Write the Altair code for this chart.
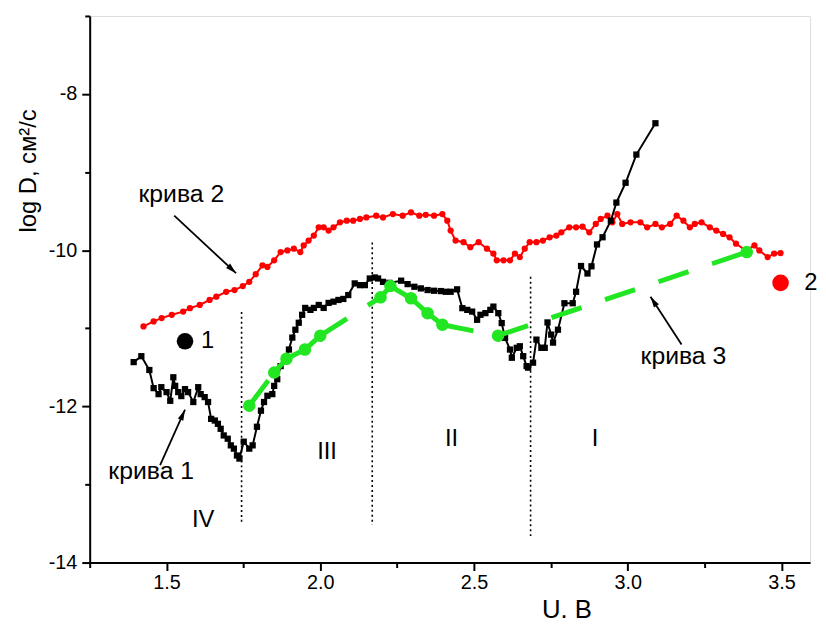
import altair as alt
import pandas as pd

# ---------------- data ----------------
# curve 1 (black squares)
c1_x = [1.393, 1.418, 1.444, 1.458, 1.474, 1.483, 1.500, 1.512, 1.522, 1.528, 1.538, 1.548, 1.560, 1.570,
        1.587, 1.603, 1.611, 1.624, 1.635, 1.645, 1.657, 1.667, 1.676, 1.686, 1.699, 1.709, 1.719, 1.729,
        1.737, 1.751, 1.769, 1.780, 1.794, 1.807, 1.817, 1.828, 1.844, 1.850, 1.860, 1.871, 1.887, 1.898,
        1.909, 1.919, 1.930, 1.941, 1.951, 1.968, 1.979, 1.995, 2.011, 2.027, 2.043, 2.059, 2.075, 2.091,
        2.112, 2.129, 2.145, 2.161, 2.177, 2.188, 2.204, 2.225, 2.263, 2.284, 2.306, 2.327, 2.349, 2.370,
        2.392, 2.408, 2.424, 2.445, 2.462, 2.478, 2.494, 2.510, 2.521, 2.537, 2.553, 2.563, 2.579, 2.590,
        2.601, 2.617, 2.623, 2.639, 2.649, 2.660, 2.671, 2.676, 2.692, 2.703, 2.719, 2.730, 2.739, 2.751,
        2.757, 2.773, 2.794, 2.821, 2.832, 2.848, 2.869, 2.882, 2.900, 2.918, 2.945, 2.963, 2.993, 3.028,
        3.090]
c1_y = [-11.433, -11.357, -11.534, -11.766, -11.843, -11.754, -11.817, -11.928, -11.627, -11.737, -11.817,
        -11.868, -11.779, -11.817, -11.944, -11.754, -11.843, -11.881, -11.944, -12.160, -12.181, -12.223,
        -12.287, -12.372, -12.414, -12.499, -12.541, -12.629, -12.668, -12.452, -12.541, -12.499, -12.261,
        -12.055, -11.944, -11.864, -11.843, -11.737, -11.652, -11.484, -11.398, -11.272, -11.119, -11.018,
        -10.929, -10.827, -10.739, -10.764, -10.739, -10.701, -10.739, -10.675, -10.659, -10.637, -10.624,
        -10.574, -10.425, -10.447, -10.447, -10.362, -10.349, -10.362, -10.405, -10.418, -10.390, -10.434,
        -10.468, -10.489, -10.510, -10.519, -10.523, -10.532, -10.532, -10.501, -10.742, -10.764, -10.786,
        -10.891, -10.827, -10.806, -10.764, -10.722, -10.806, -10.933, -11.123, -11.272, -11.377, -11.250,
        -11.230, -11.357, -11.484, -11.504, -11.440, -11.145, -11.250, -11.250, -10.925, -11.081, -11.183,
        -11.018, -10.679, -10.679, -10.532, -10.202, -10.298, -10.206, -9.926, -9.834, -9.622, -9.390,
        -9.136, -8.775, -8.374]

# curve 2 (red circles)
c2_x = [1.425, 1.458, 1.484, 1.517, 1.554, 1.576, 1.608, 1.640, 1.662, 1.694, 1.721, 1.748, 1.769, 1.790,
        1.812, 1.828, 1.850, 1.871, 1.893, 1.914, 1.935, 1.946, 1.962, 1.979, 1.995, 2.011, 2.027, 2.043,
        2.064, 2.086, 2.107, 2.129, 2.150, 2.182, 2.204, 2.236, 2.268, 2.295, 2.322, 2.343, 2.370, 2.397,
        2.413, 2.424, 2.440, 2.466, 2.488, 2.515, 2.542, 2.563, 2.574, 2.596, 2.617, 2.633, 2.649, 2.665,
        2.681, 2.703, 2.724, 2.746, 2.768, 2.784, 2.810, 2.832, 2.853, 2.875, 2.896, 2.912, 2.934, 2.950,
        2.966, 2.982, 3.009, 3.041, 3.063, 3.090, 3.111, 3.138, 3.159, 3.181, 3.202, 3.218, 3.240, 3.267,
        3.288, 3.310, 3.331, 3.352, 3.385, 3.412, 3.428, 3.455, 3.476, 3.497]
c2_y = [-10.976, -10.912, -10.869, -10.827, -10.786, -10.742, -10.701, -10.637, -10.595, -10.532, -10.510,
        -10.459, -10.405, -10.307, -10.193, -10.214, -10.129, -10.024, -10.003, -9.981, -10.024, -9.939,
        -9.876, -9.812, -9.707, -9.707, -9.749, -9.707, -9.643, -9.622, -9.622, -9.600, -9.580, -9.558,
        -9.580, -9.537, -9.558, -9.516, -9.558, -9.546, -9.558, -9.537, -9.622, -9.749, -9.876, -9.897,
        -9.961, -9.897, -9.981, -10.044, -10.129, -10.129, -10.129, -10.044, -10.088, -9.981, -9.897,
        -9.897, -9.876, -9.834, -9.812, -9.770, -9.707, -9.707, -9.698, -9.770, -9.664, -9.600, -9.558,
        -9.643, -9.537, -9.664, -9.643, -9.643, -9.707, -9.664, -9.707, -9.664, -9.558, -9.622, -9.707,
        -9.664, -9.643, -9.707, -9.749, -9.791, -9.834, -9.917, -10.003, -9.939, -10.003, -10.088, -10.044,
        -10.037]

# curve 3 (green, dashed)
c3_x = [1.769, 1.850, 1.890, 1.950, 2.000, 2.196, 2.228, 2.295, 2.349, 2.397, 2.578, 3.387]
c3_y = [-11.991, -11.567, -11.390, -11.272, -11.094, -10.603, -10.459, -10.615, -10.806, -10.954, -11.094,
        -10.024]

# dotted region boundaries
bound_x = [1.744, 2.169, 2.684]
bound_top = [-10.79, -9.90, -10.34]
bound_bottom = [-13.49, -13.52, -13.66]

# region labels
region_labels = ["IV", "III", "II", "I"]
region_x = [1.619, 2.022, 2.427, 2.894]
region_y = [-13.454, -12.579, -12.414, -12.414]

# curve labels and arrows
curve_labels = ["крива 1", "крива 2", "крива 3"]
curve_label_x = [1.450, 1.548, 3.181]
curve_label_y = [-12.832, -9.279, -11.360]
arrow_x1 = [1.479, 1.525, 3.175]
arrow_y1 = [-12.753, -9.558, -11.208]
arrow_x2 = [1.560, 1.726, 3.074]
arrow_y2 = [-12.042, -10.294, -10.595]
arrow_angle = [24, 133, 327]

# sample markers
sample_labels = ["1", "2"]
sample_x = [1.560, 3.497]
sample_y = [-11.166, -10.418]
sample_colors = ["#000000", "#ff0000"]
sample_label_x = [1.612, 3.574]

x_major = [1.5, 2.0, 2.5, 3.0, 3.5]
x_minor = [1.25, 1.75, 2.25, 2.75, 3.25]
y_major = [-14, -12, -10, -8]
y_minor = [-13, -11, -9, -7]

# ---------------- tables ----------------
df1 = pd.DataFrame({"x": c1_x, "y": c1_y})
df2 = pd.DataFrame({"x": c2_x, "y": c2_y})
df3 = pd.DataFrame({"x": c3_x, "y": c3_y})
seg_rows = []
for i in range(len(c3_x) - 1):
    seg_rows.append({"seg": i, "o": 0, "x": c3_x[i], "y": c3_y[i]})
    seg_rows.append({"seg": i, "o": 1, "x": c3_x[i + 1], "y": c3_y[i + 1]})
df3seg = pd.DataFrame(seg_rows)
dfb = pd.DataFrame({"x": bound_x, "y": bound_top, "y2": bound_bottom})
dfr = pd.DataFrame({"x": region_x, "y": region_y, "t": region_labels})
dfc = pd.DataFrame({"x": curve_label_x, "y": curve_label_y, "t": curve_labels})
dfa = pd.DataFrame({"x": arrow_x1, "y": arrow_y1, "x2": arrow_x2, "y2": arrow_y2, "a": arrow_angle})
dfs = pd.DataFrame({"x": sample_x, "y": sample_y, "c": sample_colors,
                    "lx": sample_label_x, "t": sample_labels})
dfticks = pd.DataFrame({"x": [1.25], "y": [-14]})

FONT = "Liberation Sans"
GREEN = "#22e622"

xs = alt.Scale(domain=[1.25, 3.593], nice=False, zero=False)
ys = alt.Scale(domain=[-14, -7], nice=False, zero=False)


def X(field="x", **kw):
    return alt.X(field, type="quantitative", scale=xs, axis=None, **kw)


def Y(field="y", **kw):
    return alt.Y(field, type="quantitative", scale=ys, axis=None, **kw)


# axes layer (major)
axis_major = alt.Chart(dfticks).mark_point(opacity=0).encode(
    x=alt.X("x:Q", scale=xs, axis=alt.Axis(
        values=x_major, format=".1f", orient="bottom", tickSize=8, tickWidth=2, domainWidth=2,
        domainColor="black", tickColor="black", labelColor="black", labelFontSize=20, labelFont=FONT,
        labelPadding=2, grid=False, title="U. B", titleFont=FONT, titleFontSize=26,
        titleFontWeight="normal", titleColor="black", titleX=481.5, titleY=47,
        titleAlign="center", titleBaseline="middle", labelFlush=False)),
    y=alt.Y("y:Q", scale=ys, axis=alt.Axis(
        values=y_major, labelExpr="toString(datum.value)", orient="left", tickSize=8, tickWidth=2,
        domainWidth=2, domainColor="black", tickColor="black", labelColor="black", labelFontSize=20,
        labelFont=FONT, labelPadding=5, grid=False, title="log D, см²/с", titleFont=FONT,
        titleFontSize=24, titleFontWeight="normal", titleColor="black", titleX=-62, titleY=156,
        titleAngle=270, titleAlign="center", titleBaseline="middle", labelFlush=False)),
)

axis_minor = alt.Chart(dfticks).mark_point(opacity=0).encode(
    x=alt.X("x:Q", scale=xs, axis=alt.Axis(
        values=x_minor, orient="bottom", tickSize=5, tickWidth=2, domain=False, labels=False,
        tickColor="black", grid=False, title="")),
    y=alt.Y("y:Q", scale=ys, axis=alt.Axis(
        values=y_minor, orient="left", tickSize=5, tickWidth=2, domain=False, labels=False,
        tickColor="black", grid=False, title="")),
)

bounds = alt.Chart(dfb).mark_rule(color="black", strokeWidth=1.6, strokeDash=[2, 3]).encode(
    x=X(), y=Y(), y2="y2")

red_line = alt.Chart(df2).mark_line(color="#ff0000", strokeWidth=2).encode(x=X(), y=Y())
red_pts = alt.Chart(df2).mark_point(shape="circle", filled=True, color="#ff0000", size=40,
                                    opacity=1).encode(x=X(), y=Y())

black_line = alt.Chart(df1).mark_line(color="black", strokeWidth=2).encode(x=X(), y=Y())
black_pts = alt.Chart(df1).mark_point(shape="square", filled=True, color="black", size=40,
                                      opacity=1).encode(x=X(), y=Y())

green_line = alt.Chart(df3seg).mark_line(color=GREEN, strokeWidth=5, strokeDash=[32, 25]).encode(
    x=X(), y=Y(), detail="seg:N", order="o:Q")
green_pts = alt.Chart(df3).mark_point(shape="circle", filled=True, color=GREEN, size=160,
                                      opacity=1).encode(x=X(), y=Y())

samples = alt.Chart(dfs).mark_point(shape="circle", filled=True, size=280, opacity=1).encode(
    x=X(), y=Y(), color=alt.Color("c:N", scale=None))
sample_text = alt.Chart(dfs).mark_text(font=FONT, fontSize=24, align="left", baseline="middle",
                                       color="black").encode(x=X("lx"), y=Y(), text="t:N")

region_text = alt.Chart(dfr).mark_text(font=FONT, fontSize=24, align="center", baseline="middle",
                                       color="black").encode(x=X(), y=Y(), text="t:N")
curve_text = alt.Chart(dfc).mark_text(font=FONT, fontSize=25, align="center", baseline="middle",
                                      color="black").encode(x=X(), y=Y(), text="t:N")

arrow_lines = alt.Chart(dfa).mark_rule(color="black", strokeWidth=1.8).encode(
    x=X(), y=Y(), x2="x2", y2="y2")
arrow_heads = alt.Chart(dfa).mark_point(shape="M0,0L-0.6,2.2L0.6,2.2Z", filled=True, color="black",
                                        size=100, opacity=1).encode(
    x=X("x2"), y=Y("y2"), angle=alt.Angle("a:Q", scale=None))

chart = alt.layer(
    axis_major, axis_minor, bounds, red_line, red_pts, black_line, black_pts, green_line, green_pts,
    samples, sample_text, region_text, curve_text, arrow_lines, arrow_heads
).resolve_axis(x="independent", y="independent").properties(
    width=727.5, height=552,
    padding={"left": 82.5, "top": 5, "right": 8, "bottom": 59},
    autosize=alt.AutoSizeParams(type="none"),
    background="white",
).configure_view(stroke=None).configure(font=FONT)

chart.save("out.html", embed_options={"renderer": "svg", "actions": False})
